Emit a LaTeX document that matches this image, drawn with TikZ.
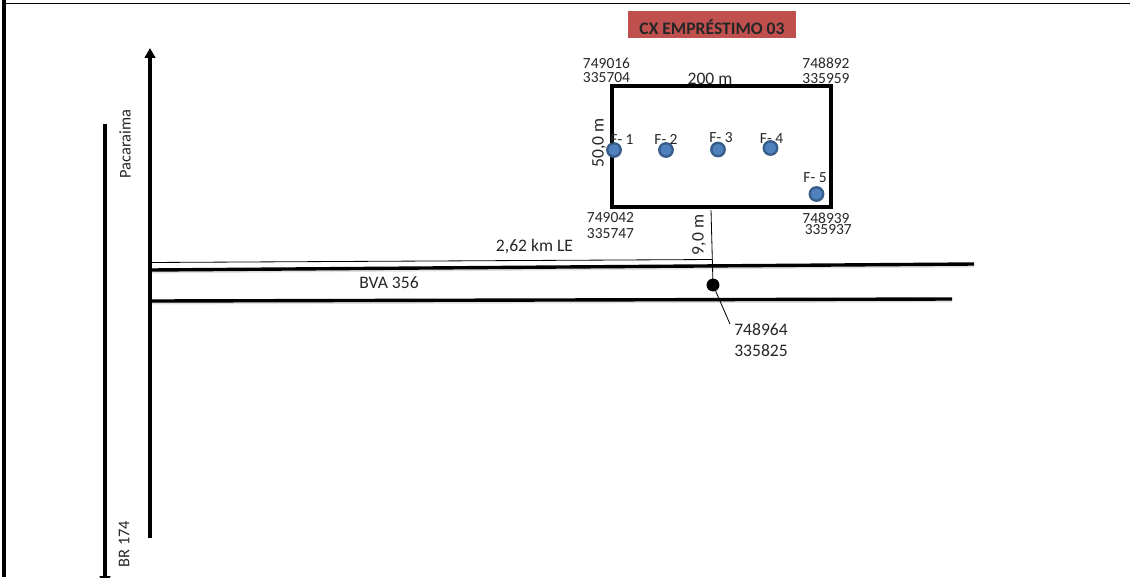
\documentclass[tikz,border=0pt]{standalone}
\usepackage{fontspec}
\setmainfont{Carlito}
\usepackage{xcolor}
\usepackage{tikz}
\usetikzlibrary{arrows.meta}

\definecolor{titlered}{HTML}{C0504D}
\definecolor{furoblue}{HTML}{4F81BD}
\definecolor{furoedge}{HTML}{385D8A}

\tikzset{
	road/.style={line width=2.9pt},
	shadowroad/.style={road, preaction={draw=black!12, line width=2.4pt, transform canvas={yshift=-1.7pt}}},
	thinline/.style={line width=0.7pt},
	furo/.style={circle, fill=furoblue, draw=furoedge, line width=2pt, minimum size=11.5pt, inner sep=0pt},
	lbl/.style={inner sep=0pt, font=\fontsize{15}{17}\selectfont, text=black!85},
	small/.style={inner sep=0pt, font=\fontsize{13.2}{15}\selectfont, text=black!85, align=center}
}

\begin{document}
\begin{tikzpicture}[x=0.03cm, y=-0.03cm]
	\useasboundingbox (0,0) rectangle (1130,577);

	% page frame
	\coordinate (P1) at (4,0);
	\coordinate (P2) at (4,577);
	\coordinate (P3) at (4,3.5);
	\coordinate (P4) at (1130,3.5);
	\draw[line width=3.8pt] (P1) -- (P2);
	\draw[line width=1.1pt] (P3) -- (P4);

	% title
	\node[fill=titlered, minimum width=142.8pt, minimum height=23pt, inner sep=0pt] (title) at (712,24.5) {};
	\node[anchor=base, inner sep=0pt, font=\fontsize{15}{17}\selectfont\bfseries, text=black!85] (titletext) at (712,34.5) {CX EMPRÉSTIMO 03};

	% roads
	\coordinate (A) at (150,538);
	\coordinate (B) at (150,48);
	\coordinate (C) at (105,124);
	\coordinate (D) at (105,586);
	\coordinate (E) at (150,270);
	\coordinate (F) at (974,264);
	\coordinate (G) at (150,301);
	\coordinate (H) at (952,299);
	\draw[shadowroad] (E) -- (F);
	\draw[shadowroad] (G) -- (H);
	\draw[road, -{Triangle[length=8.5pt, width=9pt]}] (A) -- (B);
	\draw[road, -{Triangle[length=8.5pt, width=9pt]}] (C) -- (D);

	% area
	\coordinate (R1) at (612,86);
	\coordinate (R2) at (831,207);
	\draw[road] (R1) rectangle (R2);

	% distances
	\node[circle, fill=black, minimum size=11pt, inner sep=0pt] (km) at (713,285) {};
	\coordinate (K1) at (711,210);
	\coordinate (K2) at (148,262.5);
	\coordinate (K3) at (712,259.5);
	\coordinate (K4) at (730,324);
	\draw[thinline] (K1) -- (km.center);
	\draw[thinline] (K2) -- (K3);
	\draw[thinline] (km) -- (K4);

	% wells
	\foreach \n/\x/\y/\lx/\ly in {
		1/614/150/622/140,
		2/666/150/666/139,
		3/718/149.5/721/138,
		4/770.5/148/771.5/139,
		5/816.5/194/815/178
	}{
		\node[furo] (f\n) at (\x,\y) {};
		\node[small] (t\n) at (\lx,\ly) {F- \n};
	}

	% coordinates of the corners
	\foreach \name/\x/\y/\label in {
		c1/606.5/63/749016,
		c2/606.5/78/335704,
		c3/826/63/748892,
		c4/826/79/335959,
		c5/610.5/218/749042,
		c6/610.5/234/335747,
		c7/826/218/748939,
		c8/830/230/335937
	}{
		\node[small] (\name) at (\x,\y) {\label};
	}
	\node[lbl] (d1) at (710,78.5) {200 m};
	\node[lbl, rotate=90] (d2) at (599,143) {50,0 m};
	\node[lbl, rotate=90] (d3) at (699,235) {9,0 m};
	\node[lbl] (d4) at (534.5,247) {2,62 km LE};
	\node[lbl] (d5) at (389,283) {BVA 356};
	\node[lbl, rotate=90, font=\fontsize{14}{16}\selectfont] (d6) at (125,144) {Pacaraima};
	\node[lbl, rotate=90, font=\fontsize{14}{16}\selectfont] (d7) at (124,544) {BR 174};
	\node[lbl] (d8) at (761,330) {748964};
	\node[lbl] (d9) at (761,351) {335825};
\end{tikzpicture}
\end{document}
